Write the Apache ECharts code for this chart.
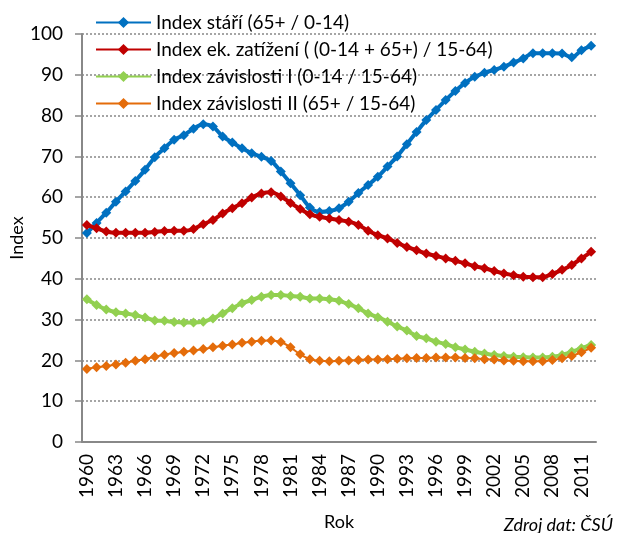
<!DOCTYPE html>
<html>
<head>
<meta charset="utf-8">
<script src="https://cdn.jsdelivr.net/npm/echarts@6/dist/echarts.min.js"></script>
<style>
  html, body { margin: 0; padding: 0; background: #fff; }
  #chart { width: 617px; height: 533px; }
</style>
</head>
<body>
<div id="chart"></div>
<script>
// roky 1960 - 2012
const years = []
for (let y = 1960; y <= 2012; y++) years.push(String(y))

const indexStari = [
  51.2, 53.7, 56.2, 58.9, 61.4, 64.0, 66.7, 69.8, 72.0, 74.1,
  75.2, 76.8, 77.9, 77.3, 74.9, 73.4, 72.0, 70.8, 69.9, 68.9,
  66.3, 63.4, 60.5, 57.5, 56.4, 56.6, 57.3, 58.9, 61.0, 63.0,
  65.0, 67.5, 70.0, 73.0, 76.0, 78.9, 81.4, 83.8, 86.0, 88.0,
  89.5, 90.5, 91.2, 92.0, 93.0, 94.0, 95.3, 95.3, 95.3, 95.2,
  94.3, 96.0, 97.1
]
const indexZatizeni = [
  53.2, 52.4, 51.6, 51.3, 51.3, 51.3, 51.3, 51.5, 51.7, 51.8,
  51.8, 52.2, 53.4, 54.4, 56.0, 57.3, 58.5, 59.9, 60.9, 61.2,
  60.2, 58.6, 57.1, 55.8, 55.2, 54.8, 54.4, 54.0, 53.2, 51.8,
  50.7, 49.9, 48.8, 47.8, 47.0, 46.2, 45.6, 45.0, 44.4, 43.8,
  43.1, 42.6, 41.9, 41.3, 40.9, 40.5, 40.4, 40.4, 41.2, 42.2,
  43.4, 45.0, 46.6
]
const indexZavislostiI = [
  35.0, 33.6, 32.5, 31.8, 31.5, 31.1, 30.5, 29.8, 29.7, 29.4,
  29.3, 29.3, 29.5, 30.3, 31.5, 32.8, 34.0, 34.8, 35.6, 36.0,
  36.0, 35.8, 35.6, 35.2, 35.2, 35.0, 34.6, 33.8, 32.8, 31.5,
  30.6, 29.5, 28.3, 27.3, 26.0, 25.4, 24.6, 24.0, 23.2, 22.7,
  22.1, 21.7, 21.3, 21.1, 20.9, 20.8, 20.7, 20.7, 20.9, 21.3,
  22.1, 23.0, 23.8
]
const indexZavislostiII = [
  17.9, 18.3, 18.6, 19.0, 19.4, 19.9, 20.3, 20.9, 21.4, 21.8,
  22.1, 22.4, 22.8, 23.2, 23.6, 23.9, 24.3, 24.6, 24.8, 24.9,
  24.5, 23.2, 21.5, 20.3, 19.9, 19.8, 19.9, 20.0, 20.1, 20.2,
  20.2, 20.3, 20.4, 20.5, 20.6, 20.6, 20.7, 20.7, 20.7, 20.6,
  20.5, 20.3, 20.2, 20.0, 19.9, 19.8, 19.8, 19.8, 20.1, 20.5,
  21.1, 22.0, 23.1
]
const yTicks = [0, 10, 20, 30, 40, 50, 60, 70, 80, 90, 100]

const font = 'Lato, "Open Sans", sans-serif'

function makeSeries (name, data, color, width, size) {
  return {
    name: name,
    type: 'line',
    data: data,
    smooth: 0.3,
    showAllSymbol: true,
    symbol: 'diamond',
    symbolSize: size,
    itemStyle: { color: color },
    lineStyle: { color: color, width: width },
    emphasis: { disabled: true }
  }
}

const chart = echarts.init(document.getElementById('chart'), null, { renderer: 'canvas' })
chart.setOption({
  animation: false,
  backgroundColor: '#fff',
  textStyle: { fontFamily: font },
  legend: {
    orient: 'vertical',
    left: 90,
    top: 8,
    itemWidth: 55,
    itemHeight: 14,
    itemGap: 8,
    textStyle: { fontSize: 19, color: '#000', fontFamily: font }
  },
  grid: { left: 82, right: 21, top: 34, bottom: 91, containLabel: false, outerBoundsMode: 'none' },
  xAxis: {
    type: 'category',
    data: years,
    boundaryGap: true,
    name: 'Rok',
    nameLocation: 'middle',
    nameGap: 71,
    nameMoveOverlap: false,
    nameTextStyle: { fontSize: 18, color: '#000' },
    axisLine: { lineStyle: { color: '#888', width: 2 } },
    axisTick: { interval: 0, length: 5, lineStyle: { color: '#888', width: 1.5 } },
    axisLabel: { interval: 2, rotate: 90, fontSize: 19, color: '#000', margin: 12 },
    splitLine: { show: false }
  },
  yAxis: {
    type: 'value',
    min: yTicks[0],
    max: yTicks[yTicks.length - 1],
    interval: 10,
    name: 'Index',
    nameLocation: 'middle',
    nameGap: 56,
    nameRotate: 90,
    nameMoveOverlap: false,
    nameTextStyle: { fontSize: 18, color: '#000' },
    axisLine: { show: true, lineStyle: { color: '#888', width: 2 } },
    axisTick: { show: true, length: 7, lineStyle: { color: '#888', width: 1.5 } },
    axisLabel: { fontSize: 19, color: '#000', margin: 19 },
    splitLine: { lineStyle: { color: '#888', type: [2, 2], width: 1.5 } }
  },
  graphic: [{
    type: 'text',
    right: 4,
    top: 516,
    style: { text: 'Zdroj dat: ČSÚ', font: 'italic 18px ' + font, fill: '#000' }
  }],
  series: [
    makeSeries('Index stáří (65+ / 0-14)', indexStari, '#0070C0', 4, 10),
    makeSeries('Index ek. zatížení ( (0-14 + 65+) / 15-64)', indexZatizeni, '#C00000', 4, 10),
    makeSeries('Index závislosti I (0-14 / 15-64)', indexZavislostiI, '#92D050', 4, 10),
    makeSeries('Index závislosti II (65+ / 15-64)', indexZavislostiII, '#E46C0A', 2, 10)
  ]
})
</script>
</body>
</html>
